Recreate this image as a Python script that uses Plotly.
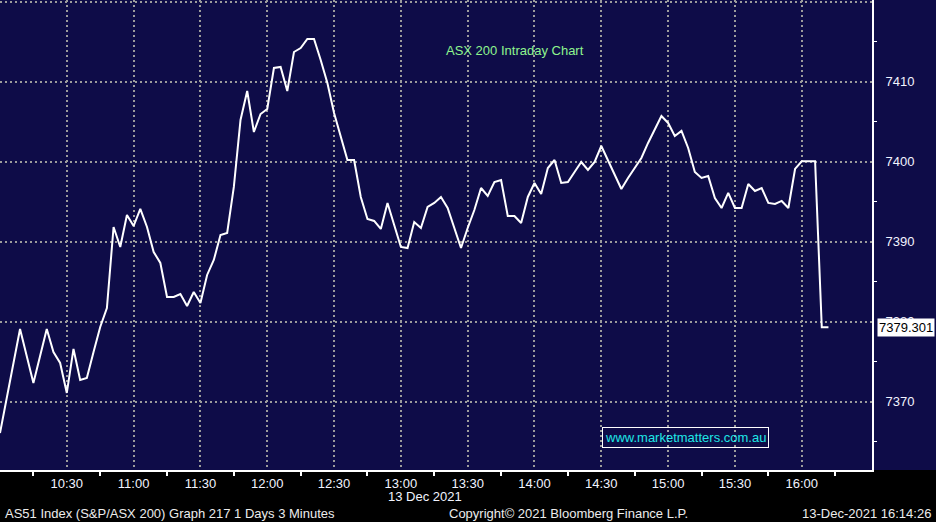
import pandas as pd
import plotly.graph_objects as go

# ---------------- data ----------------
start_time = "2021-12-13 10:00"
bar_minutes = 3
asx_values = [
    7366.09, 7370.46, 7374.71, 7379.09, 7375.71, 7372.34, 7375.71, 7379.09, 7376.21, 7374.84,
    7371.09, 7376.59, 7372.71, 7372.96, 7376.21, 7379.34, 7381.71, 7391.84, 7389.34, 7393.34,
    7391.96, 7394.09, 7391.84, 7388.71, 7387.34, 7383.09, 7383.09, 7383.46, 7381.96, 7383.71,
    7382.34, 7385.84, 7387.71, 7390.84, 7391.09, 7396.84, 7405.21, 7408.84, 7403.71, 7405.96,
    7406.59, 7411.71, 7411.84, 7408.84, 7413.71, 7414.21, 7415.34, 7415.34, 7412.71, 7409.84,
    7406.09, 7403.09, 7400.21, 7400.21, 7395.59, 7392.84, 7392.59, 7391.59, 7394.84, 7392.09,
    7389.34, 7389.21, 7392.46, 7391.71, 7394.34, 7394.84, 7395.59, 7394.21, 7391.71, 7389.21,
    7391.71, 7393.96, 7396.71, 7395.71, 7397.46, 7397.71, 7393.21, 7393.21, 7392.34, 7395.59,
    7397.34, 7395.96, 7399.21, 7400.21, 7397.34, 7397.46, 7398.71, 7399.96, 7398.96, 7399.96,
    7401.96, 7400.21, 7398.34, 7396.59, 7397.96, 7399.21, 7400.46, 7402.34, 7404.09, 7405.71,
    7404.84, 7403.21, 7403.84, 7401.71, 7398.71, 7397.96, 7398.21, 7395.46, 7394.21, 7396.09,
    7394.21, 7394.21, 7397.21, 7396.34, 7396.71, 7394.84, 7394.71, 7395.09, 7394.21, 7399.09,
    7400.05, 7400.05, 7400.05, 7379.301, 7379.301,
]
last_value = 7379.301
x_tick_labels = ["", "10:30", "11:00", "11:30", "12:00", "12:30", "13:00",
                 "13:30", "14:00", "14:30", "15:00", "15:30", "16:00"]
y_tick_values = [7370, 7380, 7390, 7400, 7410, 7420]
y_tick_labels = ["7370", "7380", "7390", "7400", "7410", ""]
y_minor_values = [7365, 7375, 7385, 7395, 7405, 7415]

title_text = "ASX 200 Intraday Chart"
watermark_text = "www.marketmatters.com.au"
date_text = "13 Dec 2021"
footer_left = "AS51 Index (S&P/ASX 200) Graph 217 1 Days 3 Minutes"
footer_mid = "Copyright\u00a9 2021 Bloomberg Finance L.P."
footer_right = "13-Dec-2021 16:14:26"

# ---------------- derived ----------------
times = pd.date_range(start_time, periods=len(asx_values), freq=f"{bar_minutes}min")
t0 = pd.Timestamp(start_time)
x_tick_vals = [t0 + pd.Timedelta(minutes=30 * i) for i in range(len(x_tick_labels))]
x_minor_vals = [t0 + pd.Timedelta(minutes=15 + 30 * i) for i in range(len(x_tick_labels))]
x_end = t0 + pd.Timedelta(minutes=391.55)
y_range = [7361.46, 7420.21]

NAVY = "#0e0c48"
GRID = "#9c9c9c"
FONT = "Liberation Sans"
W, H = 936, 522
ML, MR, MT, MB = 0, 64, 0, 52
PW, PH = W - ML - MR, H - MT - MB


def px_x(px):
    return px / PW


def px_y(py):
    return (PH - py) / PH


fig = go.Figure()
fig.add_trace(go.Scatter(x=times, y=asx_values, mode="lines",
                         line=dict(color="white", width=2), hoverinfo="skip"))

# axis tick arrows on the right axis
arrow_x = x_end + pd.Timedelta(minutes=1.8)
fig.add_trace(go.Scatter(x=[arrow_x] * len(y_tick_values), y=y_tick_values, mode="markers",
                         marker=dict(symbol="triangle-right", size=7, color="white"),
                         cliponaxis=False, hoverinfo="skip"))
# pointer for last value box
fig.add_trace(go.Scatter(x=[x_end + pd.Timedelta(minutes=1.6)], y=[last_value], mode="markers",
                         marker=dict(symbol="triangle-left", size=11, color="white"),
                         cliponaxis=False, hoverinfo="skip"))

fig.update_layout(
    width=W, height=H,
    margin=dict(l=ML, r=MR, t=MT, b=MB, autoexpand=False),
    paper_bgcolor="black", plot_bgcolor=NAVY,
    showlegend=False,
    font=dict(family=FONT, size=13, color="white"),
    shapes=[dict(type="rect", xref="paper", yref="paper", x0=1, x1=1.1, y0=0, y1=1,
                 fillcolor=NAVY, line=dict(width=0), layer="below")],
)

fig.update_xaxes(
    type="date", range=[t0, x_end], automargin=False,
    tickmode="array", tickvals=x_tick_vals, ticktext=x_tick_labels,
    ticks="", showgrid=True, gridcolor=GRID, gridwidth=2, griddash="2px,3px",
    showline=True, linecolor="white", linewidth=2, zeroline=False,
    tickfont=dict(family=FONT, size=13, color="#f2f4ff"),
    minor=dict(tickvals=x_minor_vals, ticks="outside", ticklen=4, tickwidth=2,
               tickcolor="white", showgrid=False),
)

fig.update_yaxes(
    side="right", range=y_range, automargin=False,
    tickmode="array", tickvals=y_tick_values, ticktext=y_tick_labels,
    ticks="", showgrid=True, gridcolor=GRID, gridwidth=2, griddash="2px,3px",
    showline=True, linecolor="white", linewidth=2, zeroline=False,
    tickfont=dict(family=FONT, size=13, color="#f2f4ff"),
    ticklabelstandoff=9,
    minor=dict(tickvals=y_minor_values, ticks="outside", ticklen=3, tickwidth=1,
               tickcolor="white", showgrid=False),
)

annotations = [
    dict(text=title_text, x=px_x(514.5), y=px_y(50), xref="paper", yref="paper",
         showarrow=False, xanchor="center", yanchor="middle",
         font=dict(family=FONT, size=13, color="#8ef58e")),
    dict(text=watermark_text, x=px_x(685), y=px_y(437), xref="paper", yref="paper",
         showarrow=False, xanchor="center", yanchor="middle",
         bordercolor="white", borderwidth=1, borderpad=2,
         font=dict(family=FONT, size=13, color="#1ee6e6")),
    dict(text=date_text, x=px_x(425), y=px_y(496), xref="paper", yref="paper",
         showarrow=False, xanchor="center", yanchor="middle",
         font=dict(family=FONT, size=13, color="#f2f4ff")),
    dict(text=footer_left, x=px_x(3), y=px_y(513), xref="paper", yref="paper",
         showarrow=False, xanchor="left", yanchor="middle",
         font=dict(family=FONT, size=13, color="#ececec")),
    dict(text=footer_mid, x=px_x(447), y=px_y(513), xref="paper", yref="paper",
         showarrow=False, xanchor="left", yanchor="middle",
         font=dict(family=FONT, size=13, color="#ececec")),
    dict(text=footer_right, x=px_x(933), y=px_y(513), xref="paper", yref="paper",
         showarrow=False, xanchor="right", yanchor="middle",
         font=dict(family=FONT, size=13, color="#ececec")),
    dict(text=f"{last_value:.3f}", x=px_x(877), y=last_value, xref="paper", yref="y",
         showarrow=False, xanchor="left", yanchor="middle",
         bgcolor="white", borderpad=1,
         font=dict(family=FONT, size=13, color="black")),
]
fig.update_layout(annotations=annotations)

fig.write_html(
    "out.html",
    config={"displayModeBar": False, "staticPlot": True},
    post_script="document.body.style.margin='0';document.body.style.overflow='hidden';",
)
